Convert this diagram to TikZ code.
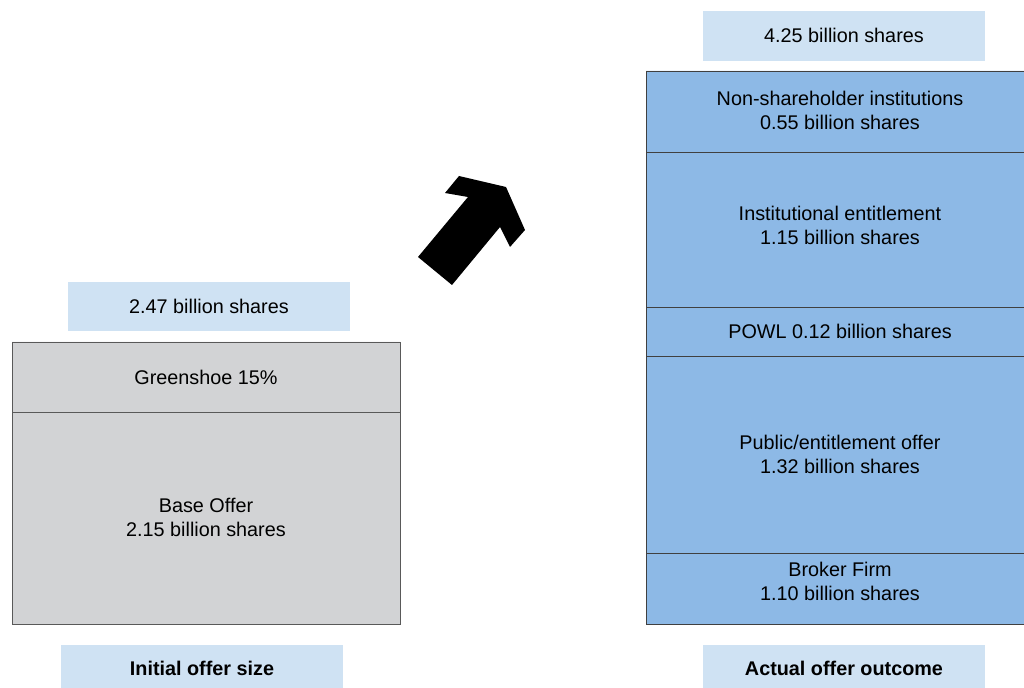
\documentclass[tikz,border=0pt]{standalone}
\usepackage{fontspec}
\setmainfont{Liberation Sans}
\usepackage{xcolor}
\usepackage{tikz}
\definecolor{labelblue}{HTML}{CFE2F3}
\definecolor{outcomeblue}{HTML}{8DB9E6}
\definecolor{offergray}{HTML}{D2D3D5}

\begin{document}
\begin{tikzpicture}[x=0.5pt, y=-0.5pt, every node/.style={font=\fontsize{9.9}{12}\selectfont, align=center, inner sep=0pt}]
    \clip (0,0) rectangle (1024,688);
    % initial offer size
    \fill[labelblue] (68,282) rectangle (350,331);
    \node (initTotal) at (209,306) {2.47 billion shares};
    \draw[black!65, fill=offergray] (12,342) rectangle (400,412) (12,412) rectangle (400,624);
    \node (greenshoe) at (206,377) {Greenshoe 15\%};
    \node (baseOffer) at (206,517) {Base Offer\\2.15 billion shares};
    \fill[labelblue] (61,645) rectangle (343,688);
    \node[font=\fontsize{9.9}{12}\selectfont\bfseries] (initLabel) at (202,668) {Initial offer size};
    % actual offer outcome
    \fill[labelblue] (703,11) rectangle (985,61);
    \node (actTotal) at (844,35) {4.25 billion shares};
    \draw[black!75, fill=outcomeblue] (646,71) rectangle (1034,152) (646,152) rectangle (1034,307)
      (646,307) rectangle (1034,356) (646,356) rectangle (1034,553) (646,553) rectangle (1034,624);
    \node (nonHolders) at (840,110) {Non-shareholder institutions\\0.55 billion shares};
    \node (instEnt) at (840,225) {Institutional entitlement\\1.15 billion shares};
    \node (powl) at (840,331) {POWL 0.12 billion shares};
    \node (publicEnt) at (840,454) {Public/entitlement offer\\1.32 billion shares};
    \node (broker) at (840,581) {Broker Firm\\1.10 billion shares};
    \fill[labelblue] (703,645) rectangle (985,688);
    \node[font=\fontsize{9.9}{12}\selectfont\bfseries] (actLabel) at (844,668) {Actual offer outcome};
    % block arrow
    \fill[black] (418,257) -- (468,197) -- (445,193) -- (459,176) -- (506,187) -- (525,230)
      -- (510,247) -- (500,227) -- (452,285) -- cycle;
\end{tikzpicture}
\end{document}
